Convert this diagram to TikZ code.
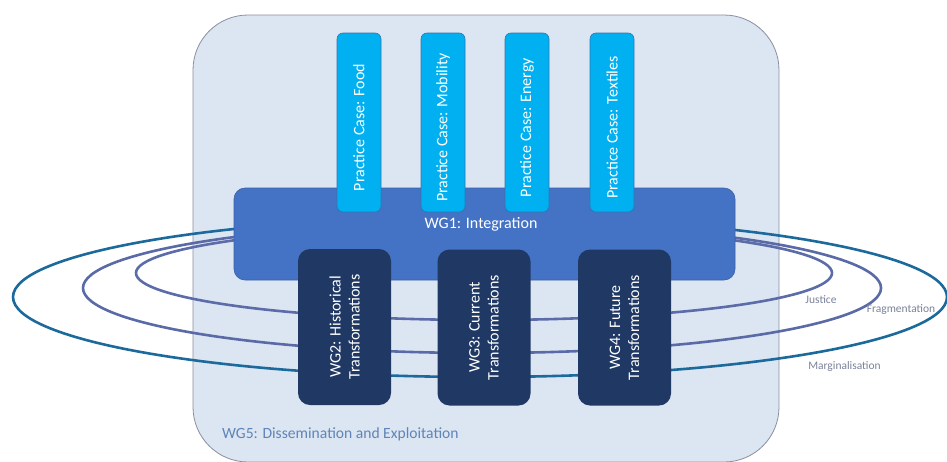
\documentclass[tikz,border=0pt]{standalone}
\usepackage{fontspec}
\setmainfont{Carlito}
\definecolor{outerfill}{HTML}{DCE6F2}
\definecolor{outerdraw}{HTML}{8A8E9E}
\definecolor{casefill}{HTML}{00B0F0}
\definecolor{casedraw}{HTML}{2E75B6}
\definecolor{wgonefill}{HTML}{4472C4}
\definecolor{wgonedraw}{HTML}{3A62A8}
\definecolor{wgfill}{HTML}{1F3864}
\definecolor{ringA}{HTML}{1C6A9C}
\definecolor{ringB}{HTML}{5A6AA6}
\definecolor{ringC}{HTML}{5C6CA8}
\definecolor{labelgray}{HTML}{7A8299}
\definecolor{wgfivetext}{HTML}{5F84B8}
\begin{document}
\begin{tikzpicture}[x=1pt,y=-1pt,
  outerbox/.style={draw=outerdraw, fill=outerfill, line width=0.8pt, rounded corners=55pt},
  casebox/.style={draw=casedraw, fill=casefill, line width=0.6pt, rounded corners=6pt,
     rotate=90, minimum width=179pt, minimum height=44pt, inner sep=0pt,
     text=white, font=\fontsize{16}{19}\selectfont},
  wgonebox/.style={draw=wgonedraw, fill=wgonefill, line width=0.6pt, rounded corners=11pt,
     minimum width=501pt, minimum height=92pt, inner sep=0pt},
  wgbox/.style={fill=wgfill, rounded corners=12pt, rotate=90,
     minimum width=156pt, minimum height=93pt, inner sep=0pt, align=center,
     text=white, font=\fontsize{16}{19}\selectfont},
  ring/.style={line width=2.6pt},
  ringlabel/.style={text=labelgray, font=\fontsize{11.5}{13}\selectfont, inner sep=0pt},
]
\useasboundingbox (0,0) rectangle (947,461);
% outer WG5 container
\draw[outerbox] (193,15) rectangle (779,462);
\node[text=wgfivetext, font=\fontsize{15.6}{18}\selectfont, anchor=west, inner sep=0pt] (wg5) at (222,434) {WG5: Dissemination and Exploitation};
% rings
\coordinate (cA) at (480,297);
\coordinate (cB) at (482,288);
\coordinate (cC) at (484,273);
\draw[ring, ringA] (cA) ellipse [x radius=467, y radius=80];
\draw[ring, ringB] (cB) ellipse [x radius=399, y radius=65];
\draw[ring, ringC] (cC) ellipse [x radius=348, y radius=47];
% WG1
\node[wgonebox] (wg1) at (484.5,234) {};
\node[text=white, font=\fontsize{16}{19}\selectfont, inner sep=0pt] (wg1t) at (481,224) {WG1: Integration};
% practice cases
\node[casebox] (food) at (359,122.5) {Practice Case: Food\hspace*{10pt}};
\node[casebox] (mob) at (443,122.5) {Practice Case: Mobility\hspace*{10pt}};
\node[casebox] (energy) at (527,122.5) {Practice Case: Energy\hspace*{10pt}};
\node[casebox] (text) at (612,122.5) {Practice Case: Textiles\hspace*{10pt}};
% WG2-4
\node[wgbox] (wg2) at (344.5,327) {WG2: Historical\\Transformations};
\node[wgbox] (wg3) at (484,327.5) {WG3: Current\\Transformations};
\node[wgbox] (wg4) at (624.5,327.5) {WG4: Future\\Transformations};
% ring labels
\node[ringlabel] (justice) at (821,300) {Justice};
\node[ringlabel] (frag) at (901,310) {Fragmentation};
\node[ringlabel] (marg) at (844.5,366) {Marginalisation};
\end{tikzpicture}
\end{document}
